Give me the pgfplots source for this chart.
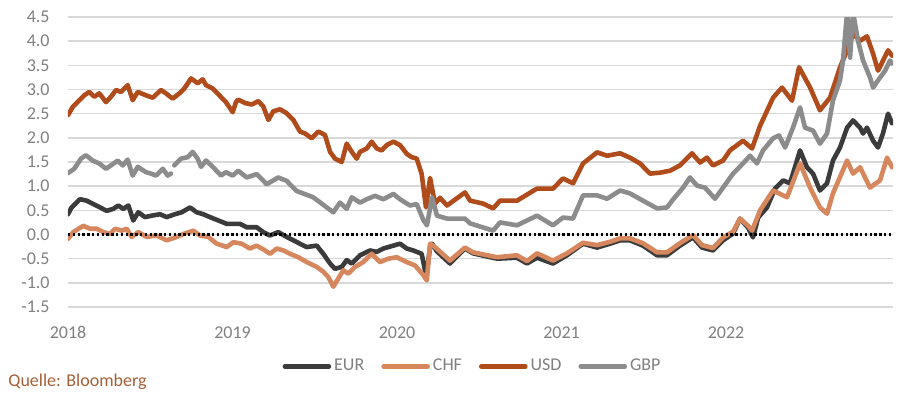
\documentclass[border=0pt]{standalone}
\usepackage{pgfplots}
\pgfplotsset{compat=1.18}
\usepackage{fontspec}
\setmainfont{Carlito}
\definecolor{eurc}{RGB}{59,59,59}
\definecolor{chfc}{RGB}{214,135,94}
\definecolor{usdc}{RGB}{176,76,28}
\definecolor{gbpc}{RGB}{140,140,140}
\definecolor{txtc}{RGB}{128,128,128}
\definecolor{gridc}{RGB}{217,217,217}
\definecolor{srcc}{RGB}{165,95,55}
\begin{document}
\fontsize{9}{11}\selectfont
\begin{tikzpicture}
\path[use as bounding box] (-34pt,-50.5pt) rectangle (418.5pt,153.5pt);
\begin{axis}[
 scale only axis, width=412.5pt, height=145pt,
 xmin=2018, xmax=2023.015, ymin=-1.5, ymax=4.5,
 axis line style={draw=none},
 ytick={-1.5,-1,-0.5,0,0.5,1,1.5,2,2.5,3,3.5,4,4.5},
 xtick={2018,2019,2020,2021,2022},
 tick style={draw=none},
 ymajorgrids, grid style={gridc, line width=0.7pt},
 /pgf/number format/assume math mode=true,
 ticklabel style={text=txtc, font=\fontsize{9}{11}\selectfont},
 yticklabel style={xshift=-6pt, /pgf/number format/.cd, fixed, fixed zerofill, precision=1},
 xticklabel style={yshift=-6.5pt, /pgf/number format/.cd, 1000 sep={}},
 unbounded coords=jump,
 every axis plot/.append style={line width=2.3pt, line join=round, line cap=round},
 legend columns=4,
 legend style={at={(0.491,-0.205)}, anchor=center, draw=none, fill=none,
   font=\fontsize{9}{11}\selectfont, text=txtc,
   /tikz/every even column/.append style={column sep=7pt},
   nodes={inner xsep=1.5pt}},
 legend image code/.code={\draw[#1, line width=2.3pt, line cap=round] (0pt,0pt) -- (22pt,0pt);},
]
% EUR
\addplot[eurc] table {
t v
2018.000 0.42
2018.022 0.56
2018.073 0.73
2018.114 0.70
2018.154 0.63
2018.195 0.56
2018.235 0.49
2018.275 0.53
2018.306 0.60
2018.336 0.53
2018.367 0.60
2018.397 0.29
2018.427 0.46
2018.468 0.36
2018.509 0.39
2018.559 0.42
2018.600 0.36
2018.650 0.42
2018.691 0.46
2018.742 0.56
2018.782 0.46
2018.822 0.42
2018.863 0.36
2018.914 0.29
2018.965 0.22
2019.005 0.22
2019.046 0.22
2019.086 0.15
2019.147 0.15
2019.187 0.05
2019.228 -0.02
2019.278 0.05
2019.329 -0.05
2019.370 -0.12
2019.410 -0.19
2019.451 -0.26
2019.512 -0.23
2019.552 -0.40
2019.593 -0.60
2019.623 -0.71
2019.664 -0.67
2019.694 -0.53
2019.725 -0.60
2019.775 -0.43
2019.836 -0.33
2019.877 -0.36
2019.917 -0.29
2019.978 -0.23
2020.018 -0.19
2020.059 -0.29
2020.099 -0.33
2020.150 -0.40
2020.170 -0.74
2020.178 -0.85
2020.201 -0.26
2020.213 -0.19
2020.243 -0.35
2020.322 -0.60
2020.413 -0.29
2020.462 -0.39
2020.608 -0.50
2020.729 -0.48
2020.790 -0.60
2020.851 -0.48
2020.948 -0.60
2021.033 -0.43
2021.131 -0.19
2021.216 -0.27
2021.295 -0.19
2021.356 -0.12
2021.416 -0.12
2021.495 -0.23
2021.581 -0.43
2021.641 -0.43
2021.720 -0.23
2021.799 -0.06
2021.854 -0.27
2021.921 -0.33
2021.982 -0.12
2022.043 0.02
2022.085 0.33
2022.134 0.14
2022.164 -0.06
2022.195 0.35
2022.249 0.56
2022.298 0.95
2022.347 1.12
2022.389 1.06
2022.450 1.74
2022.492 1.39
2022.529 1.26
2022.571 0.91
2022.614 1.06
2022.650 1.53
2022.693 1.80
2022.736 2.21
2022.772 2.36
2022.815 2.21
2022.833 2.09
2022.857 2.21
2022.894 1.94
2022.924 1.80
2022.954 2.09
2022.985 2.50
2023.009 2.30
};
\addlegendentry{EUR}
% CHF
\addplot[chfc] table {
t v
2018.000 -0.09
2018.032 0.05
2018.093 0.18
2018.134 0.12
2018.174 0.12
2018.215 0.05
2018.255 0.01
2018.286 0.12
2018.326 0.08
2018.357 0.12
2018.387 -0.05
2018.427 0.05
2018.478 -0.05
2018.539 -0.02
2018.600 -0.12
2018.661 -0.05
2018.701 0.01
2018.762 0.08
2018.802 -0.02
2018.853 -0.05
2018.904 -0.19
2018.965 -0.26
2019.005 -0.16
2019.056 -0.19
2019.106 -0.29
2019.147 -0.23
2019.198 -0.33
2019.228 -0.40
2019.269 -0.29
2019.309 -0.33
2019.350 -0.40
2019.400 -0.47
2019.451 -0.57
2019.512 -0.67
2019.552 -0.77
2019.582 -0.88
2019.613 -1.08
2019.643 -0.91
2019.674 -0.74
2019.704 -0.81
2019.745 -0.67
2019.795 -0.57
2019.846 -0.40
2019.897 -0.57
2019.947 -0.50
2019.998 -0.47
2020.059 -0.57
2020.109 -0.64
2020.160 -0.84
2020.181 -0.95
2020.201 -0.19
2020.231 -0.26
2020.322 -0.54
2020.413 -0.27
2020.462 -0.37
2020.608 -0.47
2020.729 -0.43
2020.790 -0.55
2020.851 -0.39
2020.948 -0.54
2021.033 -0.39
2021.131 -0.17
2021.216 -0.22
2021.295 -0.15
2021.356 -0.08
2021.416 -0.08
2021.495 -0.18
2021.581 -0.37
2021.641 -0.37
2021.720 -0.18
2021.799 -0.01
2021.854 -0.22
2021.921 -0.28
2021.982 -0.06
2022.043 0.06
2022.085 0.33
2022.134 0.18
2022.158 0.08
2022.207 0.50
2022.286 0.91
2022.371 0.77
2022.450 1.47
2022.511 0.97
2022.571 0.56
2022.614 0.43
2022.650 0.85
2022.736 1.53
2022.772 1.26
2022.815 1.39
2022.875 0.97
2022.936 1.12
2022.979 1.59
2023.009 1.39
};
\addlegendentry{CHF}
% USD
\addplot[usdc] table {
t v
2018.000 2.47
2018.029 2.64
2018.069 2.78
2018.099 2.88
2018.129 2.95
2018.160 2.85
2018.190 2.92
2018.231 2.74
2018.261 2.85
2018.292 2.99
2018.322 2.95
2018.363 3.09
2018.393 2.78
2018.424 2.95
2018.474 2.88
2018.515 2.83
2018.565 2.99
2018.596 2.92
2018.636 2.81
2018.677 2.92
2018.707 3.02
2018.748 3.23
2018.788 3.13
2018.819 3.21
2018.839 3.09
2018.880 3.02
2018.920 2.88
2018.960 2.74
2019.001 2.53
2019.021 2.74
2019.035 2.79
2019.076 2.72
2019.117 2.69
2019.157 2.76
2019.187 2.65
2019.218 2.37
2019.248 2.55
2019.289 2.59
2019.329 2.51
2019.370 2.37
2019.410 2.13
2019.441 2.09
2019.481 1.99
2019.522 2.13
2019.562 2.06
2019.593 1.71
2019.623 1.57
2019.664 1.50
2019.694 1.88
2019.725 1.71
2019.755 1.57
2019.775 1.71
2019.816 1.78
2019.846 1.92
2019.877 1.78
2019.907 1.74
2019.937 1.85
2019.978 1.92
2020.018 1.85
2020.059 1.67
2020.089 1.60
2020.120 1.57
2020.150 1.25
2020.176 0.56
2020.201 1.17
2020.231 0.64
2020.261 0.76
2020.304 0.60
2020.413 0.87
2020.444 0.70
2020.523 0.64
2020.584 0.54
2020.626 0.70
2020.729 0.70
2020.851 0.95
2020.948 0.95
2021.009 1.16
2021.070 1.06
2021.131 1.47
2021.216 1.70
2021.277 1.63
2021.356 1.68
2021.416 1.59
2021.477 1.47
2021.538 1.26
2021.599 1.28
2021.660 1.32
2021.720 1.43
2021.793 1.68
2021.842 1.49
2021.884 1.59
2021.921 1.43
2021.982 1.53
2022.024 1.74
2022.103 1.94
2022.158 1.78
2022.207 2.25
2022.286 2.83
2022.340 3.04
2022.401 2.77
2022.444 3.46
2022.511 3.04
2022.571 2.57
2022.632 2.83
2022.693 3.46
2022.736 3.81
2022.772 4.15
2022.815 4.01
2022.857 4.10
2022.894 3.74
2022.924 3.39
2022.985 3.81
2023.009 3.70
};
\addlegendentry{USD}
% GBP
\addplot[gbpc] table {
t v
2018.000 1.27
2018.038 1.36
2018.079 1.57
2018.109 1.64
2018.150 1.53
2018.190 1.47
2018.231 1.36
2018.261 1.43
2018.302 1.53
2018.333 1.43
2018.363 1.55
2018.393 1.22
2018.424 1.40
2018.474 1.29
2018.505 1.26
2018.535 1.22
2018.576 1.36
2018.606 1.22
2018.626 1.26
2018.636 nan
2018.646 1.43
2018.687 1.57
2018.728 1.60
2018.758 1.71
2018.788 1.57
2018.809 1.40
2018.839 1.53
2018.880 1.40
2018.930 1.22
2018.960 1.29
2019.001 1.22
2019.035 1.32
2019.086 1.18
2019.147 1.25
2019.208 1.04
2019.278 1.18
2019.329 1.11
2019.390 0.90
2019.491 0.77
2019.573 0.56
2019.613 0.46
2019.653 0.66
2019.694 0.53
2019.725 0.77
2019.775 0.66
2019.816 0.73
2019.866 0.80
2019.917 0.73
2019.978 0.84
2020.018 0.73
2020.079 0.60
2020.120 0.63
2020.160 0.30
2020.182 0.19
2020.213 0.77
2020.243 0.39
2020.304 0.33
2020.413 0.33
2020.444 0.23
2020.584 0.08
2020.626 0.25
2020.729 0.19
2020.851 0.39
2020.948 0.19
2021.009 0.35
2021.070 0.33
2021.131 0.81
2021.216 0.81
2021.277 0.74
2021.356 0.91
2021.416 0.85
2021.495 0.70
2021.581 0.54
2021.641 0.56
2021.672 0.70
2021.739 0.97
2021.781 1.18
2021.824 1.01
2021.872 0.97
2021.933 0.74
2021.982 0.97
2022.043 1.26
2022.103 1.47
2022.146 1.63
2022.188 1.47
2022.225 1.74
2022.286 1.99
2022.322 2.05
2022.359 1.80
2022.407 2.21
2022.450 2.63
2022.480 2.21
2022.529 2.15
2022.571 1.88
2022.614 2.09
2022.650 2.77
2022.693 3.19
2022.711 3.60
2022.736 4.60
2022.754 3.66
2022.772 4.60
2022.802 4.01
2022.833 3.60
2022.875 3.25
2022.894 3.04
2022.924 3.19
2022.967 3.39
2022.997 3.60
2023.009 3.54
};
\addlegendentry{GBP}
\addplot[black, line width=1.2pt, line cap=butt, dash pattern=on 1.2pt off 1.2pt, forget plot] coordinates {(2018,0) (2023.015,0)};
\end{axis}
\node[anchor=west, text=srcc, inner sep=0pt] at (-30pt,-37.5pt) {Quelle: Bloomberg};
\end{tikzpicture}
\end{document}
